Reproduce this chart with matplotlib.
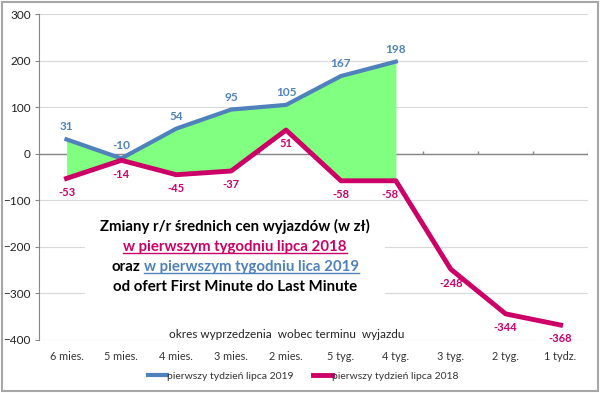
import numpy as np
import matplotlib
matplotlib.use('Agg')
import matplotlib.pyplot as plt
import matplotlib.patches as patches
from matplotlib.lines import Line2D

plt.rcParams['font.family'] = ['Lato', 'DejaVu Sans']

# dane z wykresu
categories = ['6 mies.', '5 mies.', '4 mies.', '3 mies.', '2 mies.',
              '5 tyg.', '4 tyg.', '3 tyg.', '2 tyg.', '1 tydz.']
tydzien_2019 = [31, -10, 54, 95, 105, 167, 198]
tydzien_2018 = [-53, -14, -45, -37, 51, -58, -58, -248, -344, -368]
y_ticks = [300, 200, 100, 0, -100, -200, -300, -400]

label_2019 = 'pierwszy tydzień lipca 2019'
label_2018 = 'pierwszy tydzień lipca 2018'

BLUE = '#4F81BD'
MAGENTA = '#CC0066'
GREEN = '#80FF80'
GREY = '#868686'

fig = plt.figure(figsize=(6, 3.93), dpi=100)
ax = fig.add_axes([0.065, 0.135, 0.915, 0.829])

x = np.arange(len(categories))
n19 = len(tydzien_2019)

# zielony obszar miedzy seriami
ax.fill_between(x[:n19], tydzien_2019, tydzien_2018[:n19], color=GREEN, lw=0, zorder=2)
l19, = ax.plot(x[:n19], tydzien_2019, color=BLUE, lw=3, zorder=3, label=label_2019)
l18, = ax.plot(x, tydzien_2018, color=MAGENTA, lw=3.5, zorder=4, label=label_2018)

# etykiety danych
for i, v in enumerate(tydzien_2019):
    ax.annotate(str(v), (x[i], v), xytext=(0, 9), textcoords='offset points',
                ha='center', va='center', color=BLUE, fontsize=8.5, fontweight='bold', zorder=6)
for i, v in enumerate(tydzien_2018):
    dx = -4 if i == n19 - 1 else 0
    ax.annotate(str(v), (x[i], v), xytext=(dx, -10), textcoords='offset points',
                ha='center', va='center', color=MAGENTA, fontsize=8, fontweight='bold', zorder=6)

ax.set_xlim(-0.5, len(categories) - 0.5)
ax.set_ylim(-400, 300)
ax.set_yticks(y_ticks)
ax.set_xticks(x)
ax.set_xticklabels(categories)
ax.tick_params(axis='x', length=0, pad=8, labelsize=7.8, labelcolor='#333333')
ax.tick_params(axis='y', length=3, color=GREY, pad=3, labelsize=8.5, labelcolor='#222222')

for s in ['top', 'right', 'bottom']:
    ax.spines[s].set_visible(False)
ax.spines['left'].set_color(GREY)
ax.yaxis.grid(True, color='#D9D9D9', lw=0.8)
ax.set_axisbelow(True)

# os x na zerze z kreskami miedzy kategoriami
ax.axhline(0, color=GREY, lw=1, zorder=1.5)
ax.vlines(np.arange(0.5, len(categories), 1), 0, 7, color=GREY, lw=1, zorder=1.5)

# biale tlo pod opisem
ax.add_patch(patches.Rectangle((0.084, 0.123), 0.546, 0.29, transform=ax.transAxes,
                               facecolor='white', edgecolor='none', zorder=1))

# opis w srodku wykresu
cx = 0.392
fs = 10.8
t1 = fig.text(cx, 1 - 226.7 / 393, 'Zmiany r/r średnich cen wyjazdów (w zł)',
              ha='center', va='center', fontsize=fs, fontweight='bold', color='black')
t2 = fig.text(cx, 1 - 246.7 / 393, 'w pierwszym tygodniu lipca 2018',
              ha='center', va='center', fontsize=fs, fontweight='bold', color=MAGENTA)
t3a = fig.text(cx, 1 - 266.7 / 393, 'oraz', ha='left', va='center',
               fontsize=fs, fontweight='bold', color='black')
t3b = fig.text(cx, 1 - 266.7 / 393, 'w pierwszym tygodniu lica 2019', ha='left', va='center',
               fontsize=fs, fontweight='bold', color=BLUE)
t4 = fig.text(cx, 1 - 286.7 / 393, 'od ofert First Minute do Last Minute',
              ha='center', va='center', fontsize=fs, fontweight='bold', color='black')

fig.text(287 / 600, 1 - 334 / 393, 'okres wyprzedzenia  wobec terminu  wyjazdu',
         ha='center', va='center', fontsize=8.5, color='#222222',
         bbox=dict(facecolor='white', edgecolor='none', pad=1))

fig.legend(handles=[l19, l18], loc='center', bbox_to_anchor=(0.506, 1 - 376 / 393), ncol=2,
           frameon=False, fontsize=7.5, handlelength=1.8, columnspacing=1.9, handletextpad=0.0,
           labelcolor='#333333')

# ramka wokol calosci
fig.add_artist(patches.Rectangle((0.004, 0.006), 0.992, 0.988, transform=fig.transFigure,
                                 facecolor='none', edgecolor='#A6A6A6', lw=1.5))

# ustawienie drugiej linii z dwoma kolorami + podkreslenia
fig.canvas.draw()
r = fig.canvas.get_renderer()
inv = fig.transFigure.inverted()
wa = t3a.get_window_extent(r).transformed(inv).width
wb = t3b.get_window_extent(r).transformed(inv).width
gap = 4 / 600
start = cx - (wa + gap + wb) / 2
t3a.set_x(start)
t3b.set_x(start + wa + gap)
fig.canvas.draw()

for t, c in [(t2, MAGENTA), (t3b, BLUE)]:
    bb = t.get_window_extent(r).transformed(inv)
    yy = bb.y0 + 0.5 / 393
    fig.add_artist(Line2D([bb.x0, bb.x1], [yy, yy], transform=fig.transFigure, color=c, lw=1))

fig.savefig('out.png', dpi=100)
